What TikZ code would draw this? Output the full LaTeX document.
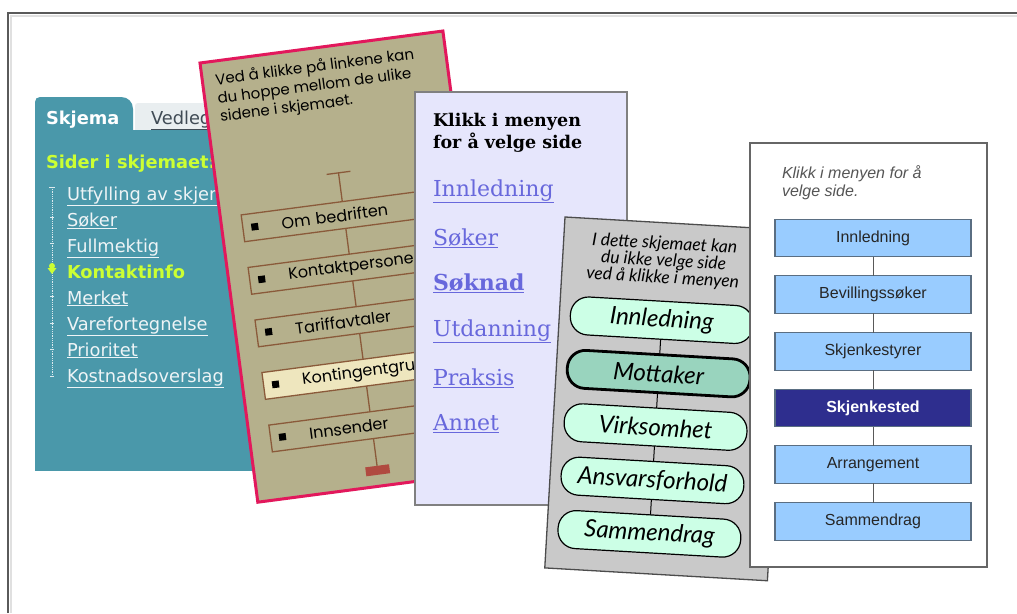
\documentclass[tikz,border=0pt]{standalone}
\usepackage{fontspec}
\newfontfamily\verd{DejaVu Sans}
\newfontfamily\slab{DejaVu Serif}
\newfontfamily\comic{Poppins}
\newfontfamily\gill{Lato}
\newfontfamily\arial{Liberation Sans}
\definecolor{framec}{HTML}{5A5A5A}
\definecolor{teali}{HTML}{4A98AA}
\definecolor{limec}{HTML}{CCFF33}
\definecolor{linkw}{HTML}{EEF4F6}
\definecolor{tabg}{HTML}{E9EEF0}
\definecolor{tabtxt}{HTML}{404B55}
\definecolor{khaki}{HTML}{B5B08C}
\definecolor{crimson}{HTML}{E2185C}
\definecolor{brownl}{HTML}{8A5A3A}
\definecolor{cream}{HTML}{EEE6BE}
\definecolor{redbar}{HTML}{B04A40}
\definecolor{lav}{HTML}{E6E6FC}
\definecolor{cardgr}{HTML}{808080}
\definecolor{linkb}{HTML}{6868DC}
\definecolor{grayc}{HTML}{C9C9C9}
\definecolor{mint}{HTML}{CCFFE6}
\definecolor{mintd}{HTML}{99D4BE}
\definecolor{boxb}{HTML}{99CCFF}
\definecolor{boxedge}{HTML}{5A6E82}
\definecolor{navyc}{HTML}{2E2E8E}
\definecolor{hint}{HTML}{555555}
\tikzset{
  every node/.style={inner sep=0pt, outer sep=0pt},
  lnkw/.style={anchor=base west, text=linkw, font=\verd\fontsize{17.8}{20}\selectfont},
  hdrc/.style={anchor=base west, text=black, font=\comic\fontsize{15}{18}\selectfont},
  tbox/.style={draw=brownl, line width=1.3pt, fill=khaki, minimum width=203pt, minimum height=27pt,
    text width=197pt, align=left, inner xsep=3pt, anchor=north west, font=\comic\fontsize{16}{18}\selectfont},
  tline/.style={draw=brownl, line width=1.3pt},
  slablink/.style={anchor=base west, text=linkb, font=\slab\fontsize{22}{26}\selectfont},
  pill/.style={draw=black, line width=1.2pt, fill=mint, rounded corners=18pt, minimum width=183pt,
    minimum height=38pt, font=\gill\itshape\fontsize{24}{26}\selectfont},
  gillhdr/.style={anchor=base, font=\gill\itshape\fontsize{17.5}{19}\selectfont},
  bbox/.style={draw=boxedge, line width=1.2pt, fill=boxb, minimum width=196pt, minimum height=37.5pt,
    font=\arial\fontsize{16}{18}\selectfont, text=black!85},
}
\begin{document}
\begin{tikzpicture}[x=1pt,y=-1pt]
\useasboundingbox (0,0) rectangle (1017,613);
\fill[white] (0,0) rectangle (1017,613);
\draw[black!12, line width=1.5pt] (11,613) -- (11,16) -- (1017,16);
\draw[framec, line width=2pt] (8,613) -- (8,13) -- (1017,13);

% ---------- card 1 (teal) ----------
\fill[tabg] (135,132) -- (135,106) .. controls (135,104) and (136,103) .. (138,103) -- (250,103) -- (250,132) -- cycle;
\fill[teali] (35,130) rectangle (280,471);
\fill[teali] (35,140) -- (35,102) .. controls (35,99) and (37,97) .. (40,97) -- (121,97)
  .. controls (128,97) and (133,102) .. (133,109) -- (133,140) -- cycle;
\node[anchor=base west, text=white, font=\verd\bfseries\fontsize{17.8}{20}\selectfont] (tabA) at (46,124) {Skjema};
\node[anchor=base west, text=tabtxt, font=\verd\fontsize{17.8}{20}\selectfont] (tabB) at (151,124) {\underline{Vedlegg}};
\node[anchor=base west, text=limec, font=\verd\bfseries\fontsize{17.8}{20}\selectfont] (sider) at (46,168) {Sider i skjemaet:};
\draw[white!80!teali, line width=0.8pt, densely dotted] (52,187) -- (52,376);
\foreach \yy in {217,243.5,296.5,323,349.5}{\draw[white!80!teali, line width=0.8pt] (50,\yy) -- (54,\yy);}
\draw[white!80!teali, line width=0.8pt] (49,187) -- (55,187);
\draw[white!80!teali, line width=0.8pt] (50,376) -- (54,376);
\fill[limec] (52,266) circle (3pt);
\fill[limec] (47.5,268) -- (56.5,268) -- (52,274) -- cycle;
\node[lnkw] (i1) at (67,200) {\underline{Utfylling av skjemaet}};
\node[lnkw] (i2) at (67,226) {\underline{Søker}};
\node[lnkw] (i3) at (67,252) {\underline{Fullmektig}};
\node[lnkw, text=limec, font=\verd\bfseries\fontsize{17.8}{20}\selectfont] (i4) at (67,278) {Kontaktinfo};
\node[lnkw] (i5) at (67,304) {\underline{Merket}};
\node[lnkw] (i6) at (67,330) {\underline{Varefortegnelse}};
\node[lnkw] (i7) at (67,356) {\underline{Prioritet}};
\node[lnkw] (i8) at (67,382) {\underline{Kostnadsoverslag}};

% ---------- card 2 (khaki, rotated) ----------
\begin{scope}[shift={(200,63)}, rotate=7.5, transform shape]
  \draw[crimson, line width=3pt, fill=khaki] (0,0) rectangle (245,443);
  \node[hdrc] (h1) at (13,24) {Ved å klikke på linkene kan};
  \node[hdrc] (h2) at (13,42.5) {du hoppe mellom de ulike};
  \node[hdrc] (h3) at (13,61) {sidene i skjemaet.};
  \coordinate (ttop) at (123,127);
  \draw[tline] (111,127) -- (135,127);
  \node[tbox] (b1) at (21,156) {\hspace*{36pt}Om bedriften};
  \node[tbox] (b2) at (21,209) {\hspace*{36pt}Kontaktpersoner};
  \node[tbox] (b3) at (21,262) {\hspace*{36pt}Tariffavtaler};
  \node[tbox, fill=cream] (b4) at (21,315) {\hspace*{36pt}Kontingentgruppe};
  \node[tbox] (b5) at (21,368) {\hspace*{36pt}Innsender};
  \node[fill=redbar, minimum width=24pt, minimum height=9pt] (rb) at (123,427) {};
  \draw[tline] (ttop) -- (ttop |- b1.north);
  \draw[tline] (ttop |- b1.south) -- (ttop |- b2.north);
  \draw[tline] (ttop |- b2.south) -- (ttop |- b3.north);
  \draw[tline] (ttop |- b3.south) -- (ttop |- b4.north);
  \draw[tline] (ttop |- b4.south) -- (ttop |- b5.north);
  \draw[tline] (ttop |- b5.south) -- (rb.north);
  \foreach \t in {156,209,262,315,368}{\fill[black] (29.5,\t+10) rectangle (36.5,\t+17);}
\end{scope}

% ---------- card 3 (lavender) ----------
\draw[cardgr, line width=1.2pt, fill=lav] (415,92) rectangle (627,505);
\node[anchor=base west, font=\slab\bfseries\fontsize{17.5}{20}\selectfont] (k1) at (433,126) {Klikk i menyen};
\node[anchor=base west, font=\slab\bfseries\fontsize{17.5}{20}\selectfont] (k2) at (433,148) {for å velge side};
\node[slablink] (s1) at (433,196) {\underline{Innledning}};
\node[slablink] (s2) at (433,245) {\underline{Søker}};
\node[slablink, font=\slab\bfseries\fontsize{22}{26}\selectfont] (s3) at (433,290) {\underline{Søknad}};
\node[slablink] (s4) at (433,336) {\underline{Utdanning}};
\node[slablink] (s5) at (433,385) {\underline{Praksis}};
\node[slablink] (s6) at (433,430) {\underline{Annet}};

% ---------- card 4 (gray, rotated) ----------
\begin{scope}[shift={(565,217)}, rotate=-3.3, transform shape]
  \draw[black!70, line width=1.3pt, fill=grayc] (0,0) rectangle (223,351.5);
  \node[gillhdr] (g1) at (101,26.5) {I dette skjemaet kan};
  \node[gillhdr] (g2) at (101,43.5) {du ikke velge side};
  \node[gillhdr] (g3) at (101,60.5) {ved å klikke i menyen};
  \coordinate (p1) at (102.5,97.5);
  \coordinate (p2) at (102.5,151);
  \coordinate (p3) at (102.5,204.5);
  \coordinate (p4) at (102.5,258);
  \coordinate (p5) at (102.5,311.5);
  \draw[black, line width=1pt] (p1) -- (p2) (p2) -- (p3) (p3) -- (p4) (p4) -- (p5);
  \node[pill] (q1) at (p1) {Innledning};
  \node[pill, fill=mintd, line width=2.8pt] (q2) at (p2) {Mottaker};
  \node[pill] (q3) at (p3) {Virksomhet};
  \node[pill] (q4) at (p4) {Ansvarsforhold};
  \node[pill] (q5) at (p5) {Sammendrag};
\end{scope}

% ---------- card 5 (white) ----------
\draw[black!60, line width=1.3pt, fill=white] (750,143) rectangle (987,567);
\node[anchor=base west, text=hint, font=\arial\itshape\fontsize{16}{18}\selectfont] (w1) at (782,178) {Klikk i menyen for å};
\node[anchor=base west, text=hint, font=\arial\itshape\fontsize{16}{18}\selectfont] (w2) at (782,196.5) {velge side.};
\node[bbox] (c1) at (873,238) {Innledning};
\node[bbox] (c2) at (873,294.5) {Bevillingssøker};
\node[bbox] (c3) at (873,351.5) {Skjenkestyrer};
\node[bbox, fill=navyc, text=white, font=\arial\bfseries\fontsize{16}{18}\selectfont] (c4) at (873,408) {Skjenkested};
\node[bbox] (c5) at (873,464.5) {Arrangement};
\node[bbox] (c6) at (873,521.5) {Sammendrag};
\draw[black!65, line width=1pt] (c1) -- (c2) (c2) -- (c3) (c3) -- (c4) (c4) -- (c5) (c5) -- (c6);
\end{tikzpicture}
\end{document}
